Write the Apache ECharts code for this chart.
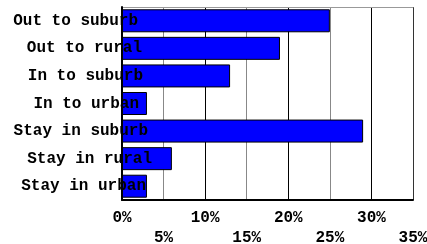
<!DOCTYPE html>
<html>
<head>
<meta charset="utf-8">
<script src="https://cdn.jsdelivr.net/npm/echarts@6/dist/echarts.min.js"></script>
<style>
html,body{margin:0;padding:0;background:#fff}
#chart{width:427px;height:244px}
</style>
</head>
<body>
<div id="chart"></div>
<script>
// data
const categories = ['Out to suburb', 'Out to rural', 'In to suburb', 'In to urban', 'Stay in suburb', 'Stay in rural', 'Stay in urban'];
const shares = [25, 19, 13, 3, 29, 6, 3];

// label nudges (px) - the original labels are not lined up
const labelShift = [14, 10, 9, 13, 4, 0, 6];
const gridColors = ['#000', '#888', '#000', '#888', '#000', '#888', '#000', '#333'];

const font = 'Liberation Mono';

let myChart = echarts.init(document.getElementById('chart'));

myChart.setOption({
    animation: false,
    grid: { left: 122, right: 14, top: 7, bottom: 44, containLabel: false, outerBoundsMode: 'none' },
    xAxis: [{
        type: 'value',
        min: 0,
        max: 35,
        interval: 5,
        axisLine: { show: true, lineStyle: { color: '#000', width: 2 } },
        axisTick: { show: false },
        splitLine: { show: true, lineStyle: { color: gridColors, width: 1 } },
        axisLabel: {
            margin: 8,
            color: '#000',
            fontFamily: font,
            fontWeight: 'bold',
            fontSize: 16,
            lineHeight: 20,
            formatter: (v) => ((v / 5) % 2 ? '\n' : '') + v + '%'
        }
    }, {
        type: 'value',
        position: 'top',
        min: 0,
        max: 35,
        axisLine: { show: true, lineStyle: { color: '#999', width: 1 } },
        axisTick: { show: false },
        axisLabel: { show: false },
        splitLine: { show: false }
    }],
    yAxis: {
        type: 'category',
        inverse: true,
        data: categories.map((c, i) => ({ value: c, textStyle: { padding: [0, labelShift[i], 0, 0] } })),
        axisLine: { show: true, lineStyle: { color: '#000', width: 2 } },
        axisTick: { show: false },
        axisLabel: {
            margin: -30,
            color: '#000',
            fontFamily: font,
            fontWeight: 'bold',
            fontSize: 16
        },
        z: 5
    },
    series: [{
        type: 'bar',
        data: shares,
        barWidth: 23,
        itemStyle: { color: '#0000ff', borderColor: '#000', borderWidth: 1 }
    }]
});
</script>
</body>
</html>
